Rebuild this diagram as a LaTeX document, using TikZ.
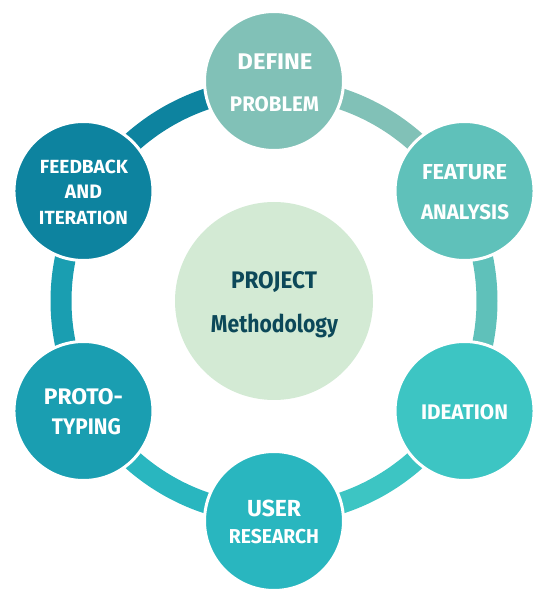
\documentclass[tikz,border=0pt]{standalone}
\usepackage{fontspec}
\setmainfont{Fira Sans}
\usepackage{graphicx}
\definecolor{cDefine}{HTML}{81C1B7}
\definecolor{cFeature}{HTML}{5FC1BA}
\definecolor{cIdea}{HTML}{3DC5C3}
\definecolor{cUser}{HTML}{29B6BF}
\definecolor{cProto}{HTML}{1A9EB1}
\definecolor{cFeed}{HTML}{0D839F}
\definecolor{cCenter}{HTML}{D3EAD4}
\definecolor{cDark}{HTML}{0C4859}
\newcommand{\fitw}[3]{\resizebox{#1pt}{#2pt}{#3}}
\tikzset{
  stage/.style={circle, draw=white, line width=3pt, minimum size=139pt, inner sep=0pt},
  ringarc/.style={line width=21pt},
  lbl/.style={anchor=base, inner sep=0pt, text=white, font=\fontsize{20}{24}\selectfont\bfseries},
  clbl/.style={anchor=base, inner sep=0pt, text=cDark, font=\fontsize{20}{24}\selectfont\bfseries},
}
\begin{document}
\begin{tikzpicture}[x=1pt,y=1pt]
\useasboundingbox (0,0) rectangle (545,595);
\coordinate (O) at (274,294);
% ring arcs
\draw[ringarc, cDefine] (O) ++(90:213) arc[start angle=90, end angle=30, radius=213];
\draw[ringarc, cFeature] (O) ++(30:213) arc[start angle=30, end angle=-30, radius=213];
\draw[ringarc, cIdea] (O) ++(-30:213) arc[start angle=-30, end angle=-90, radius=213];
\draw[ringarc, cUser] (O) ++(-90:213) arc[start angle=-90, end angle=-150, radius=213];
\draw[ringarc, cProto] (O) ++(-150:213) arc[start angle=-150, end angle=-210, radius=213];
\draw[ringarc, cFeed] (O) ++(150:213) arc[start angle=150, end angle=90, radius=213];
% stage circles
\path (O) ++(90:220) node[stage, fill=cDefine] (define) {};
\path (O) ++(30:220) node[stage, fill=cFeature] (feature) {};
\path (O) ++(-30:220) node[stage, fill=cIdea] (idea) {};
\path (O) ++(-90:220) node[stage, fill=cUser] (user) {};
\path (O) ++(210:220) node[stage, fill=cProto] (proto) {};
\path (O) ++(150:220) node[stage, fill=cFeed] (feed) {};
\node[circle, fill=cCenter, minimum size=198pt, inner sep=0pt] (center) at (O) {};
% labels
\node[lbl] (defineA) at (275, 595-70) {\fitw{75}{15.7}{DEFINE}};
\node[lbl] (defineB) at (274.5, 595-111.7) {\fitw{89}{15}{PROBLEM}};
\node[lbl] (featureA) at (464.5, 595-180) {\fitw{85}{15}{FEATURE}};
\node[lbl] (featureB) at (465, 595-220) {\fitw{88}{15}{ANALYSIS}};
\node[lbl] (ideaA) at (464.5, 595-420) {\fitw{87}{15}{IDEATION}};
\node[lbl] (userA) at (274, 595-516.7) {\fitw{54}{16.5}{USER}};
\node[lbl] (userB) at (274, 595-544) {\fitw{90}{14.3}{RESEARCH}};
\node[lbl] (protoA) at (83.5, 595-405) {\fitw{79}{16}{PROTO-}};
\node[lbl] (protoB) at (86.5, 595-435) {\fitw{69}{16}{TYPING}};
\node[lbl] (feedA) at (84, 595-173.3) {\fitw{88}{13.5}{FEEDBACK}};
\node[lbl] (feedB) at (83.5, 595-198.5) {\fitw{37}{13.5}{AND}};
\node[lbl] (feedC) at (83.5, 595-225) {\fitw{89}{13.5}{ITERATION}};
\node[clbl] (centerA) at (274, 595-289) {\fitw{86}{17}{PROJECT}};
\node[clbl] (centerB) at (274.5, 595-332.7) {\fitw{127}{18.5}{Methodology}};
\end{tikzpicture}
\end{document}
